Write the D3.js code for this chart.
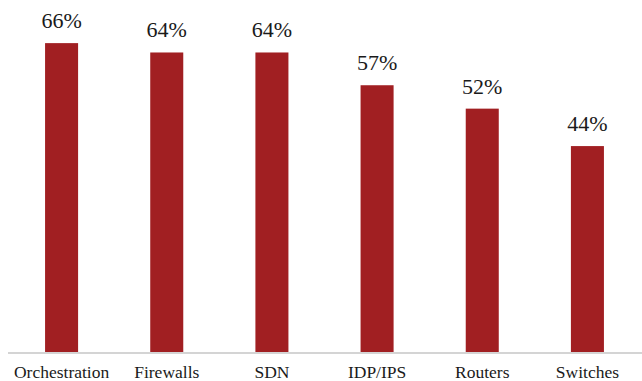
<!DOCTYPE html>
<html><head><meta charset="utf-8">
<script src="https://cdn.jsdelivr.net/npm/d3@7"></script>
</head><body style="margin:0">
<svg id="chart" width="642" height="381" font-family="Liberation Serif"></svg>
<script>
const categories = ["Orchestration","Firewalls","SDN","IDP/IPS","Routers","Switches"];
const values = [66,64,64,57,52,44];
const valueLabels = ["66%","64%","64%","57%","52%","44%"];

const svg = d3.select("#chart");
const x = d3.scaleBand().domain(categories).range([9,640]).paddingInner(0.686).paddingOuter(0.343);
const y = d3.scaleLinear().domain([0,75]).range([352,1]);

svg.selectAll("rect.bar").data(values).join("rect")
  .attr("class","bar")
  .attr("x",(d,i)=>x(categories[i]))
  .attr("width",x.bandwidth())
  .attr("y",d=>y(d))
  .attr("height",d=>y(0)-y(d))
  .attr("fill","#A11F22");

svg.append("line").attr("x1",8).attr("x2",642).attr("y1",353).attr("y2",353)
  .attr("stroke","#d4d4d4").attr("stroke-width",2);

svg.selectAll("text.val").data(values).join("text")
  .attr("class","val")
  .attr("x",(d,i)=>x(categories[i])+x.bandwidth()/2)
  .attr("y",d=>y(d)-15)
  .attr("text-anchor","middle")
  .style("font-family",'"Liberation Serif"')
  .style("font-size","22px")
  .attr("fill","#1a1a1a")
  .text((d,i)=>valueLabels[i]);

const xAxis = d3.axisBottom(x).tickSize(0).tickPadding(0);
const g = svg.append("g").attr("transform","translate(0,378)").call(xAxis);
g.select(".domain").remove();
g.attr("font-family","Liberation Serif").attr("font-size",17.5);
g.selectAll("text").attr("dy",0).attr("y",0)
  .style("font-family",'"Liberation Serif"')
  .style("font-size","17.5px").attr("fill","#1a1a1a");
</script>
</body></html>
